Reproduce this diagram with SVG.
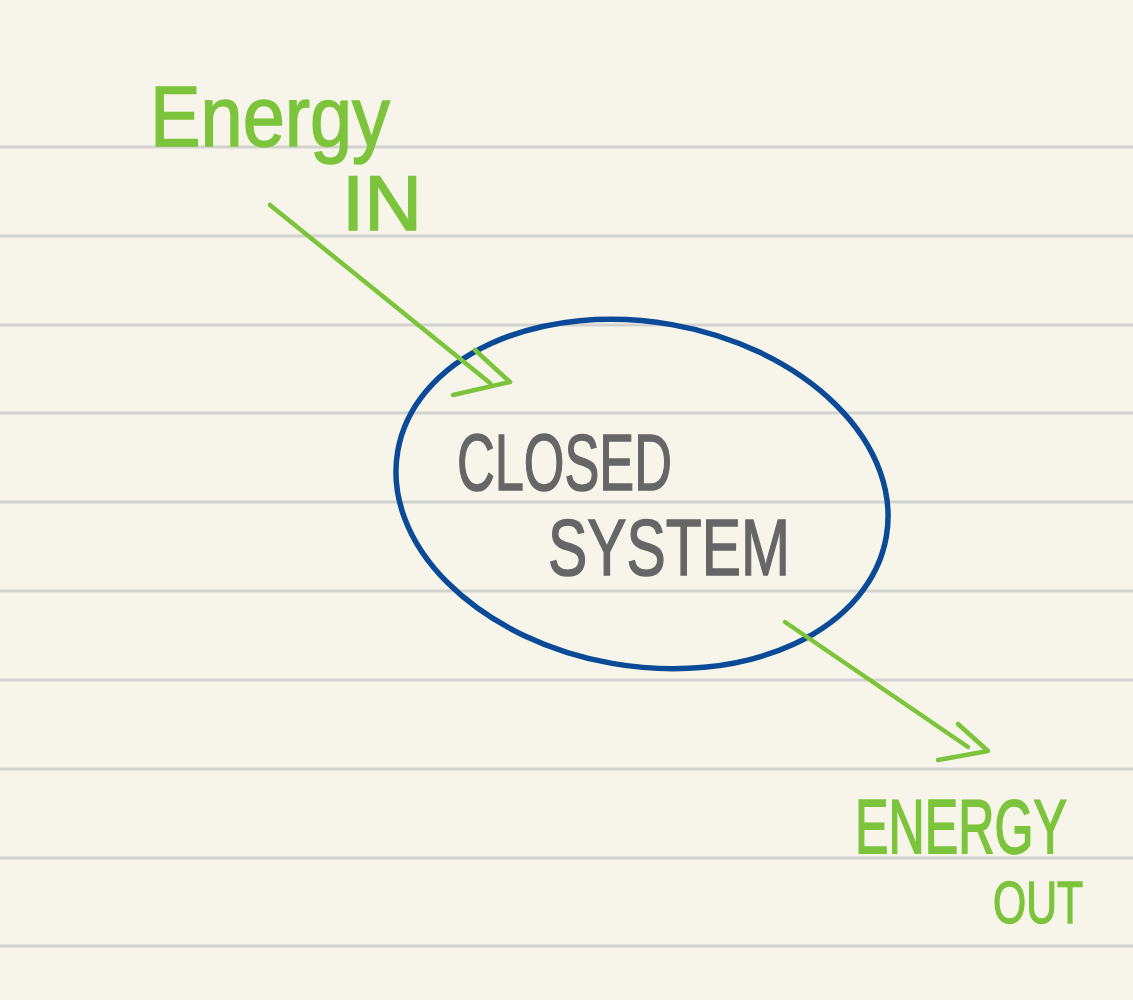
<svg xmlns="http://www.w3.org/2000/svg" width="1133" height="1000" viewBox="0 0 1133 1000">
<style>
.rule{stroke:#d2d2cf;stroke-width:3}
.conn{fill:none;stroke:#7cc43b;stroke-width:4.5;stroke-linecap:round;stroke-linejoin:round}
.g{fill:#7cc43b;stroke:#7cc43b;stroke-width:1.5;font-family:"Liberation Sans",Arial,sans-serif}
.k{fill:#666666;stroke:#666666;stroke-width:1.5;font-family:"Liberation Sans",Arial,sans-serif}
</style>
<rect width="1133" height="1000" fill="#f7f5ea"/>
<g id="ruled-lines">
<line class="rule" x1="0" y1="147" x2="1133" y2="147"/>
<line class="rule" x1="0" y1="236" x2="1133" y2="236"/>
<line class="rule" x1="0" y1="325" x2="1133" y2="325"/>
<line class="rule" x1="0" y1="413" x2="1133" y2="413"/>
<line class="rule" x1="0" y1="502" x2="1133" y2="502"/>
<line class="rule" x1="0" y1="591" x2="1133" y2="591"/>
<line class="rule" x1="0" y1="680" x2="1133" y2="680"/>
<line class="rule" x1="0" y1="769" x2="1133" y2="769"/>
<line class="rule" x1="0" y1="858" x2="1133" y2="858"/>
<line class="rule" x1="0" y1="946" x2="1133" y2="946"/>
</g>
<g id="closed-system">
<ellipse cx="642" cy="494" rx="248" ry="172" transform="rotate(10 642 494)" fill="none" stroke="#0b4a96" stroke-width="5.5"/>
<text class="k" x="457" y="490" font-size="80" textLength="215" lengthAdjust="spacingAndGlyphs">CLOSED</text>
<text class="k" x="548" y="575" font-size="80" textLength="242" lengthAdjust="spacingAndGlyphs">SYSTEM</text>
</g>
<g id="energy-in">
<text class="g" x="150" y="146" font-size="86" textLength="240" lengthAdjust="spacingAndGlyphs">Energy</text>
<text class="g" x="342" y="230" font-size="78" textLength="80" lengthAdjust="spacingAndGlyphs">IN</text>
</g>
<g id="energy-out">
<text class="g" x="855" y="853" font-size="64" textLength="212" lengthAdjust="spacingAndGlyphs" transform="translate(0 853) scale(1 1.18) translate(0 -853)">ENERGY</text>
<text class="g" x="993" y="923" font-size="60" textLength="90" lengthAdjust="spacingAndGlyphs">OUT</text>
</g>
<g id="connectors">
<path class="conn" d="M270 205 L490 383"/>
<path class="conn" d="M475 350 L510 382 L453 395"/>
<path class="conn" d="M785 622 L968 747"/>
<path class="conn" d="M958 724 L988 751 L938 760"/>
</g>
</svg>
